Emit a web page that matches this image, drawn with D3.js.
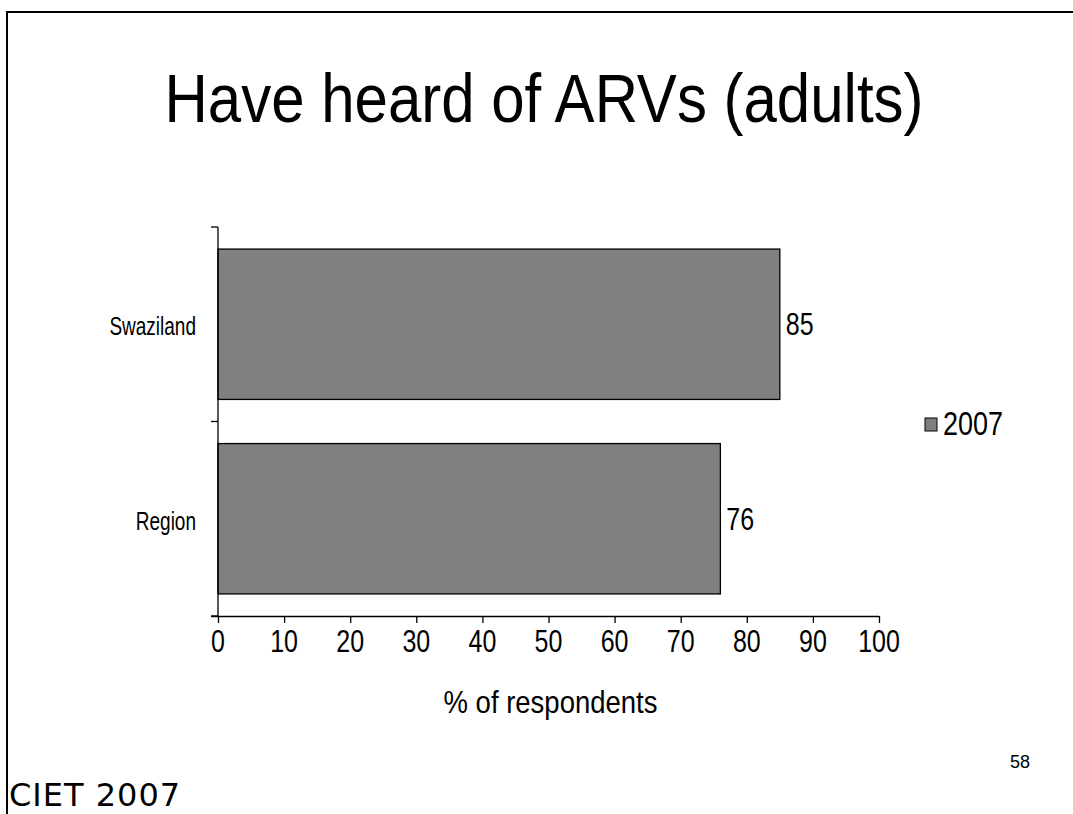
<!DOCTYPE html>
<html>
<head>
<meta charset="utf-8">
<script src="https://cdn.jsdelivr.net/npm/d3@7"></script>
<style>
  body { margin: 0; background: #fff; }
  svg text { font-family: "Liberation Sans", Arial, sans-serif; fill: #000; }
</style>
</head>
<body>
<div id="chart"></div>
<script>
// chart data
const categories = ["Swaziland", "Region"];
const values2007 = [85, 76];
const seriesName = "2007";
const xTicks = [0, 10, 20, 30, 40, 50, 60, 70, 80, 90, 100];

const width = 1073, height = 814;
const margin = {top: 227, right: 194, bottom: 198, left: 218};
const stretch = 1.25;   // the slide text is drawn taller than it is wide

const svg = d3.select("#chart").append("svg")
    .attr("width", width)
    .attr("height", height);

// helper: text placed at (x, y) baseline, stretched vertically
function label(parent, x, y, str, size, anchor, k) {
    return parent.append("text")
        .attr("transform", `translate(${x},${y}) scale(1,${k})`)
        .attr("text-anchor", anchor)
        .style("font-size", size + "px")
        .text(str);
}

// slide frame (top and left edges)
svg.append("path")
    .attr("d", `M7,${height} V12 H${width}`)
    .attr("fill", "none")
    .attr("stroke", "#000")
    .attr("stroke-width", 2);

// title
label(svg, 544, 122, "Have heard of ARVs (adults)", 60, "middle", 1.15);

const plotW = width - margin.left - margin.right;
const plotH = height - margin.top - margin.bottom;

const g = svg.append("g")
    .attr("transform", `translate(${margin.left},${margin.top})`);

// scales
const x = d3.scaleLinear()
    .domain([0, 100])
    .range([0, plotW]);

const y = d3.scaleBand()
    .domain(categories)
    .range([0, plotH])
    .paddingInner(0.227)
    .paddingOuter(0.1135);

// boundaries between categories for the y ticks
const yEdges = d3.scaleBand().domain(categories).range([0, plotH]).padding(0);

// bars
g.selectAll(".bar")
    .data(categories)
    .enter().append("rect")
    .attr("class", "bar")
    .attr("x", x(0))
    .attr("y", d => y(d))
    .attr("width", (d, i) => x(values2007[i]) - x(0))
    .attr("height", y.bandwidth())
    .attr("fill", "#808080")
    .attr("stroke", "#000")
    .attr("stroke-width", 1.3);

// value labels
categories.forEach((c, i) => {
    label(g, x(values2007[i]) + 6, y(c) + y.bandwidth() / 2 + 11, values2007[i], 25, "start", stretch);
});

// y axis with ticks on band edges
const yTickPos = categories.map(c => yEdges(c)).concat([plotH]);
g.append("line")
    .attr("x1", 0).attr("x2", 0)
    .attr("y1", 0).attr("y2", plotH)
    .attr("stroke", "#000").attr("stroke-width", 1.3);
g.selectAll(".ytick")
    .data(yTickPos)
    .enter().append("line")
    .attr("x1", -7).attr("x2", 0)
    .attr("y1", d => d).attr("y2", d => d)
    .attr("stroke", "#000").attr("stroke-width", 1.3);

// category labels
categories.forEach(c => {
    label(g, -22, yEdges(c) + yEdges.bandwidth() / 2 + 11, c, 19, "end", 1.4);
});

// x axis
const xAxis = g.append("g")
    .attr("transform", `translate(0,${plotH})`)
    .call(d3.axisBottom(x).tickValues(xTicks).tickSize(7).tickSizeOuter(0).tickFormat(""));
xAxis.select(".domain").attr("stroke", "#000").attr("stroke-width", 1.3)
    .attr("d", `M-7,0.5H${plotW}`);
xAxis.selectAll(".tick line").attr("stroke", "#000").attr("stroke-width", 1.3);

// tick labels, stretched like the rest of the slide text
xTicks.forEach(t => {
    label(g, x(t), plotH + 36, t, 25, "middle", stretch);
});

// axis title
label(svg, margin.left + plotW / 2 + 2, 713, "% of respondents", 27.5, "middle", 1.15);

// legend
const legend = svg.append("g").attr("transform", "translate(925,418)");
legend.append("rect")
    .attr("width", 12).attr("height", 13)
    .attr("fill", "#808080")
    .attr("stroke", "#000").attr("stroke-width", 1);
label(legend, 18, 17, seriesName, 27, "start", 1.2);

// slide number
label(svg, 1020, 768, "58", 18, "middle", 1.05);

// footer
svg.append("text")
    .attr("x", 9)
    .attr("y", 806)
    .style("font-size", "32px")
    .style("letter-spacing", "1px")
    .style("font-family", "'DejaVu Sans', sans-serif")
    .text("CIET 2007");
</script>
</body>
</html>
